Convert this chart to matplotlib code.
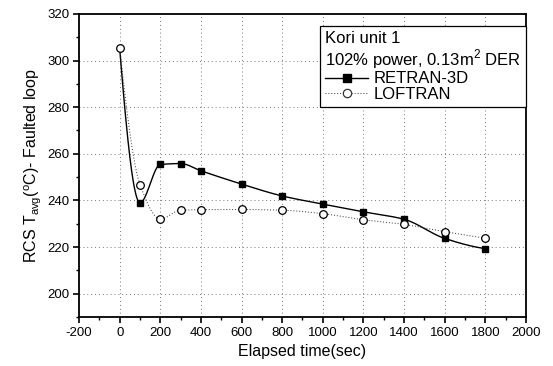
import numpy as np
import matplotlib
matplotlib.use("Agg")
import matplotlib.pyplot as plt
from matplotlib.lines import Line2D
from matplotlib.ticker import MultipleLocator

plt.rcParams["font.family"] = ["Liberation Sans", "DejaVu Sans"]
plt.rcParams["axes.unicode_minus"] = False

# values
time_s = [0, 100, 200, 300, 400, 600, 800, 1000, 1200, 1400, 1600, 1800]
retran_3d = [305.0, 239.0, 255.4, 255.8, 252.7, 247.0, 241.9, 238.4, 235.1, 231.9, 223.7, 219.3]
loftran = [305.5, 246.8, 232.0, 235.8, 236.0, 236.1, 235.8, 234.3, 231.7, 229.7, 226.6, 223.8]


def pchip(x, y, n=800):
    """monotone cubic (Fritsch-Carlson) curve through the points - no overshoot"""
    x = np.asarray(x, float); y = np.asarray(y, float)
    h = np.diff(x)
    d = np.diff(y) / h
    m = np.zeros_like(y)
    for i in range(1, len(x) - 1):
        if d[i - 1] * d[i] > 0:
            w1 = 2 * h[i] + h[i - 1]
            w2 = h[i] + 2 * h[i - 1]
            m[i] = (w1 + w2) / (w1 / d[i - 1] + w2 / d[i])
    m[0] = ((2 * h[0] + h[1]) * d[0] - h[0] * d[1]) / (h[0] + h[1])
    if np.sign(m[0]) != np.sign(d[0]):
        m[0] = 0.0
    m[-1] = ((2 * h[-1] + h[-2]) * d[-1] - h[-1] * d[-2]) / (h[-1] + h[-2])
    if np.sign(m[-1]) != np.sign(d[-1]):
        m[-1] = 0.0
    xs = np.linspace(x[0], x[-1], n)
    j = np.clip(np.searchsorted(x, xs) - 1, 0, len(x) - 2)
    t = (xs - x[j]) / h[j]
    h00 = 2 * t ** 3 - 3 * t ** 2 + 1
    h10 = t ** 3 - 2 * t ** 2 + t
    h01 = -2 * t ** 3 + 3 * t ** 2
    h11 = t ** 3 - t ** 2
    ys = h00 * y[j] + h10 * h[j] * m[j] + h01 * y[j + 1] + h11 * h[j] * m[j + 1]
    return xs, ys


fig = plt.figure(figsize=(5.53, 3.66), dpi=100)
ax = fig.add_axes([0.143, 0.134, 0.808, 0.828])

xs, ys = pchip(time_s, retran_3d)
ax.plot(xs, ys, color="black", lw=1.0, zorder=3)
ax.plot(time_s[1:], retran_3d[1:], ls="none", marker="s", ms=5, mfc="black", mec="black", zorder=4)

xs, ys = pchip(time_s, loftran)
ax.plot(xs, ys, color="#333333", lw=0.7, ls=(0, (1, 2)), zorder=3)
ax.plot(time_s, loftran, ls="none", marker="o", ms=5.5, mfc="white", mec="black", mew=0.9, zorder=5)

ax.set_xlim(-200, 2000)
ax.set_ylim(190, 320)
ax.xaxis.set_major_locator(MultipleLocator(200))
ax.xaxis.set_minor_locator(MultipleLocator(100))
ax.yaxis.set_major_locator(MultipleLocator(20))
ax.yaxis.set_minor_locator(MultipleLocator(10))
ax.tick_params(which="major", direction="out", length=4, width=1.2, labelsize=9.5, pad=3)
ax.tick_params(which="minor", direction="out", length=2, width=1.0)
ax.grid(True, which="major", color="#777777", ls=(0, (1, 3)), lw=0.7)
for s in ax.spines.values():
    s.set_linewidth(1.3)

ax.set_xlabel("Elapsed time(sec)", fontsize=11.5, labelpad=4)
ax.set_ylabel("RCS T$_{\\mathregular{avg}}$($^{\\mathregular{o}}$C)- Faulted loop", fontsize=11.5, labelpad=2)

handles = [
    Line2D([], [], color="black", lw=1.0, marker="s", ms=6, mfc="black"),
    Line2D([], [], color="#333333", lw=0.7, ls=(0, (1, 2)), marker="o", ms=6, mfc="white", mew=0.9),
]
leg = ax.legend(handles, ["RETRAN-3D", "LOFTRAN"],
                title="Kori unit 1\n102% power, 0.13m$^{\\mathregular{2}}$ DER",
                title_fontsize=12, fontsize=12, alignment="left",
                loc="upper right", bbox_to_anchor=(1.0, 0.96), borderaxespad=0,
                frameon=True, fancybox=False, edgecolor="black", framealpha=1,
                handlelength=2.6, handletextpad=0.3, labelspacing=0.05, borderpad=0.3)
leg.get_frame().set_linewidth(0.9)
leg.get_title().set_linespacing(1.05)

fig.savefig("out.png", dpi=100)
